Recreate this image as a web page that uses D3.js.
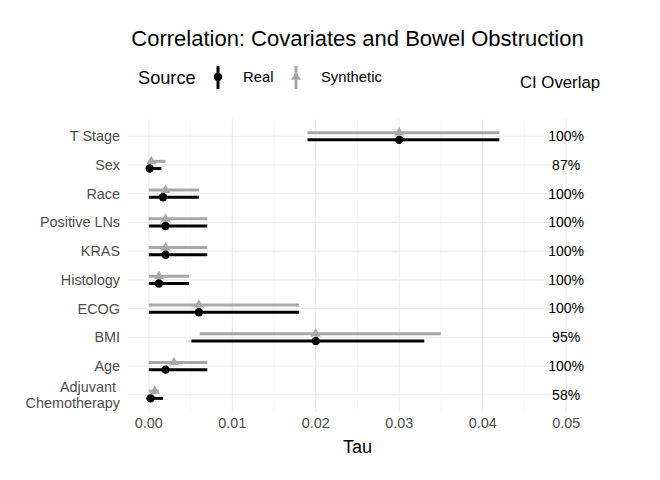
<!DOCTYPE html>
<html>
<head>
<meta charset="utf-8">
<script src="https://cdn.jsdelivr.net/npm/d3@7"></script>
<style>
  body { margin: 0; background: #fff; }
  text { font-family: "Liberation Sans", Arial, sans-serif; }
</style>
</head>
<body>
<div id="chart"></div>
<script>
let covariates = ['T Stage', 'Sex', 'Race', 'Positive LNs', 'KRAS', 'Histology', 'ECOG', 'BMI', 'Age', 'Adjuvant Chemotherapy']
let realTau = [0.030, 0.0001, 0.0017, 0.002, 0.002, 0.0012, 0.006, 0.020, 0.002, 0.0002]
let realLow = [0.019, 0, 0, 0, 0, 0, 0, 0.0051, 0, 0]
let realHigh = [0.042, 0.0015, 0.006, 0.007, 0.007, 0.0048, 0.018, 0.033, 0.007, 0.0017]
let synthTau = [0.030, 0.0003, 0.002, 0.002, 0.002, 0.0012, 0.006, 0.020, 0.003, 0.0007]
let synthLow = [0.019, 0, 0, 0, 0, 0, 0, 0.0061, 0, 0]
let synthHigh = [0.042, 0.002, 0.006, 0.007, 0.007, 0.0048, 0.018, 0.035, 0.007, 0.0012]
let overlap = ['100%', '87%', '100%', '100%', '100%', '100%', '100%', '95%', '100%', '58%']
let xTicks = [0, 0.01, 0.02, 0.03, 0.04, 0.05]

let margin = { top: 119, right: 73, bottom: 68, left: 128 }
let width = 660 - margin.left - margin.right
let height = 480 - margin.top - margin.bottom

let svg = d3.select('#chart')
  .append('svg')
    .attr('width', 660)
    .attr('height', 480)

let plot = svg.append('g')
  .attr('transform', `translate(${margin.left}, ${margin.top})`)

let xScale = d3.scaleLinear().domain([-0.0025, 0.0525]).range([0, width])
let yScale = d3.scalePoint().domain(covariates).range([0, height]).padding(0.6)

let realColor = '#000000'
let synthColor = '#A8A8A8'
let dodge = 3.6

// Grid lines
let minorTicks = d3.range(0.005, 0.05, 0.01)
plot.selectAll('.minor').data(minorTicks).enter().append('line')
  .attr('x1', d => xScale(d)).attr('x2', d => xScale(d))
  .attr('y1', 0).attr('y2', height)
  .attr('stroke', '#F2F2F2').attr('stroke-width', 0.6)
plot.selectAll('.xmajor').data(xTicks).enter().append('line')
  .attr('x1', d => xScale(d)).attr('x2', d => xScale(d))
  .attr('y1', 0).attr('y2', height)
  .attr('stroke', '#EBEBEB').attr('stroke-width', 1.1)
plot.selectAll('.ymajor').data(covariates).enter().append('line')
  .attr('x1', 0).attr('x2', width)
  .attr('y1', d => yScale(d)).attr('y2', d => yScale(d))
  .attr('stroke', '#EBEBEB').attr('stroke-width', 1.1)

// Error bars and points
let rows = covariates.map((c, i) => ({
  name: c,
  real: { tau: realTau[i], low: realLow[i], high: realHigh[i] },
  synth: { tau: synthTau[i], low: synthLow[i], high: synthHigh[i] },
  overlap: overlap[i],
}))

let triangle = d3.symbol().type(d3.symbolTriangle).size(42)

function drawSeries(key, color, offset, isTriangle) {
  plot.selectAll('.range-' + key).data(rows).enter().append('line')
    .attr('x1', d => xScale(d[key].low)).attr('x2', d => xScale(d[key].high))
    .attr('y1', d => yScale(d.name) + offset).attr('y2', d => yScale(d.name) + offset)
    .attr('stroke', color).attr('stroke-width', 3)
  if (isTriangle) {
    plot.selectAll('.pt-' + key).data(rows).enter().append('path')
      .attr('d', triangle)
      .attr('transform', d => `translate(${xScale(d[key].tau)}, ${yScale(d.name) + offset})`)
      .attr('fill', color)
  } else {
    plot.selectAll('.pt-' + key).data(rows).enter().append('circle')
      .attr('cx', d => xScale(d[key].tau)).attr('cy', d => yScale(d.name) + offset)
      .attr('r', 4.2).attr('fill', color)
  }
}
drawSeries('synth', synthColor, -dodge, true)
drawSeries('real', realColor, dodge, false)

// Overlap labels
plot.selectAll('.overlap').data(rows).enter().append('text')
  .attr('x', xScale(0.05)).attr('y', d => yScale(d.name))
  .attr('dy', '0.35em').attr('text-anchor', 'middle')
  .attr('font-size', 14).attr('fill', '#000')
  .text(d => d.overlap)

// Y axis labels
plot.selectAll('.ylab').data(covariates).enter().append('text')
  .attr('x', -8).attr('y', d => yScale(d))
  .attr('text-anchor', 'end').attr('font-size', 14.4).attr('fill', '#4D4D4D')
  .each(function(d) {
    let lines = d === 'Adjuvant Chemotherapy' ? ['Adjuvant ', 'Chemotherapy'] : [d]
    let sel = d3.select(this)
    lines.forEach((l, i) => {
      sel.append('tspan').attr('x', -8)
        .attr('dy', i === 0 ? (0.35 - (lines.length - 1) * 0.55) + 'em' : '1.1em')
        .text(l)
    })
  })

// X axis labels
plot.selectAll('.xlab').data(xTicks).enter().append('text')
  .attr('x', d => xScale(d)).attr('y', height + 16)
  .attr('text-anchor', 'middle').attr('font-size', 14.4).attr('fill', '#4D4D4D')
  .text(d => d3.format('.2f')(d))

svg.append('text')
  .attr('x', margin.left + width / 2).attr('y', 453)
  .attr('text-anchor', 'middle').attr('font-size', 18).attr('fill', '#000')
  .text('Tau')

// Title
svg.append('text')
  .attr('x', margin.left + width / 2).attr('y', 46)
  .attr('text-anchor', 'middle').attr('font-size', 22).attr('fill', '#000')
  .text('Correlation: Covariates and Bowel Obstruction')

// Legend
let legend = svg.append('g')
legend.append('text').attr('x', 138).attr('y', 84).attr('font-size', 18.2).text('Source')
let keys = [
  { label: 'Real', color: realColor, x: 218, tri: false },
  { label: 'Synthetic', color: synthColor, x: 296, tri: true },
]
for (let k of keys) {
  legend.append('line')
    .attr('x1', k.x).attr('x2', k.x).attr('y1', 66).attr('y2', 89)
    .attr('stroke', k.color).attr('stroke-width', 3)
  if (k.tri) {
    legend.append('path').attr('d', triangle)
      .attr('transform', `translate(${k.x}, 77)`).attr('fill', k.color)
  } else {
    legend.append('circle').attr('cx', k.x).attr('cy', 77).attr('r', 4.2).attr('fill', k.color)
  }
  legend.append('text').attr('x', k.x + 25).attr('y', 82)
    .attr('font-size', 14.8).text(k.label)
}

svg.append('text')
  .attr('x', 560).attr('y', 88)
  .attr('text-anchor', 'middle').attr('font-size', 16.8).attr('fill', '#000')
  .text('CI Overlap')
</script>
</body>
</html>
